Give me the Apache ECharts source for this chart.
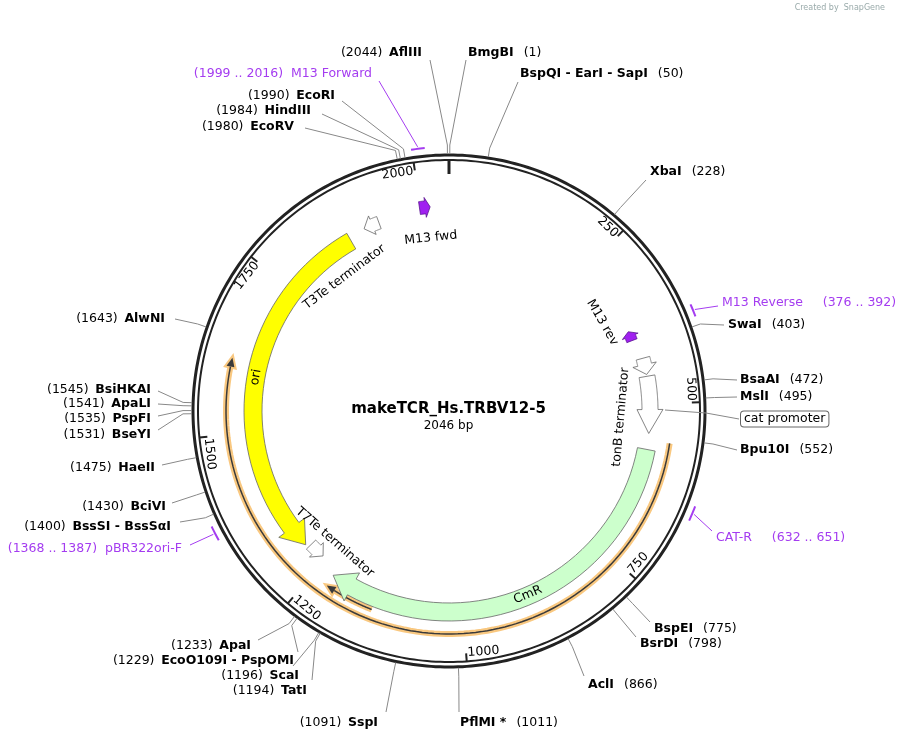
<!DOCTYPE html>
<html lang="en">
<head>
    <meta charset="utf-8">
    <title>makeTCR_Hs.TRBV12-5</title>
    <script src="https://cdn.jsdelivr.net/npm/echarts@6/dist/echarts.min.js"></script>
    <style>html,body{margin:0;padding:0;background:#fff;}</style>
</head>
<body>
<div id="map" style="width:897px;height:742px;"></div>
<script type="application/javascript">
    // plasmid data
    var seqLen = 2046;
    var tickPos = [250, 500, 750, 1000, 1250, 1500, 1750, 2000];

    // restriction sites: name, position
    var siteNames = ['AflIII', 'BmgBI', 'BspQI - EarI - SapI', 'XbaI', 'SwaI', 'BsaAI', 'MslI', 'Bpu10I',
        'BspEI', 'BsrDI', 'AclI', 'PflMI *', 'SspI', 'TatI', 'ScaI', 'EcoO109I - PspOMI', 'ApaI',
        'BssSI - BssSαI', 'BciVI', 'HaeII', 'BseYI', 'PspFI', 'ApaLI', 'BsiHKAI', 'AlwNI',
        'EcoRV', 'HindIII', 'EcoRI'];
    var sitePos = [2044, 1, 50, 228, 403, 472, 495, 552,
        775, 798, 866, 1011, 1091, 1194, 1196, 1229, 1233,
        1400, 1430, 1475, 1531, 1535, 1541, 1545, 1643,
        1980, 1984, 1990];

    // features: name, start, end (head at end)
    var featNames = ['ori', 'CmR', 'tonB1', 'tonB2', 'T7Te', 'T3Te', 'M13 fwd', 'M13 rev'];
    var featStart = [1876, 574, 425, 455, 1284, 1930, 1999, 392];
    var featEnd = [1290, 1223, 452, 548, 1256, 1904, 2016, 376];

    // ORF arcs
    var orfStart = [559, 1144];
    var orfEnd = [1613, 1222];

    // primers
    var primerNames = ['M13 Forward', 'M13 Reverse', 'CAT-R', 'pBR322ori-F'];
    var primerStart = [1999, 376, 632, 1368];
    var primerEnd = [2016, 392, 651, 1387];

    // feature labels on the map
    var labelTexts = ['M13 fwd', 'T3Te terminator', 'ori', 'T7Te terminator', 'CmR', 'tonB terminator', 'M13 rev'];
    var labelPos = [2012, 1830, 1591, 1256, 891, 523, 341];

    // ---- layout (pixels) ----
    // site label: textX, textY, side, lineEndX, lineEndY
    var siteLayout = [
        [422, 53, 'L', 430, 60], [468, 53, 'R', 466, 60], [520, 74, 'R', 518, 82], [650, 172, 'R', 646, 180],
        [728, 325, 'R', 724, 325], [740, 380, 'R', 737, 380], [740, 397, 'R', 737, 397], [740, 450, 'R', 737, 450],
        [654, 629, 'R', 650, 622], [640, 644, 'R', 636, 637], [588, 685, 'R', 584, 676], [460, 723, 'R', 459, 712],
        [378, 723, 'L', 386, 712], [307, 691, 'L', 312, 680], [299, 676, 'L', 293, 666], [294, 661, 'L', 298, 652],
        [251, 646, 'L', 258, 640], [171, 527, 'L', 180, 522], [166, 507, 'L', 172, 503], [155, 468, 'L', 162, 465],
        [151, 435, 'L', 158, 430], [151, 419, 'L', 158, 416], [151, 404, 'L', 158, 404], [151, 390, 'L', 158, 391],
        [165, 319, 'L', 175, 319], [294, 127, 'L', 305, 128], [311, 111, 'L', 322, 114], [335, 96, 'L', 342, 101]
    ];
    var primerLayout = [
        [372, 74, 'L', 379, 81], [722, 303, 'R', 718, 306], [716, 538, 'R', 712, 531], [182, 549, 'L', 190, 545]
    ];
    // r, width, head width, head length(px), fill
    var featStyle = {
        'ori': [196, 18, 32, 22, '#ffff00'],
        'CmR': [201, 18, 32, 22, '#ccffcc'],
        'tonB1': [201, 14, 24, 10, '#ffffff'],
        'tonB2': [201, 16, 26, 24, '#ffffff'],
        'T7Te': [192, 13, 20, 9, '#ffffff'],
        'T3Te': [201, 13, 20, 9, '#ffffff'],
        'M13 fwd': [205, 13, 20, 5, '#a020f0'],
        'M13 rev': [196, 11, 17, 5, '#a020f0']
    };
    var orfR = [223, 213];
    var labelR = [174, 170, 196, 174, 200, 172, 177];
    var labelRot = [-6, -37, -80, 41, -23, -85, 60];

    var purple = '#a43cf0';
    var font = '"DejaVu Sans", Verdana, sans-serif';
    var fs = 12.5;
    var dom = document.getElementById('map');
    var chart = echarts.init(dom);

    function pts(api, r, a, b, n) {
        var out = [];
        for (var i = 0; i <= n; i++) {
            out.push(api.coord([r, a + (b - a) * i / n]));
        }
        return out;
    }
    function toUnits(px, r) {
        return px / (2 * Math.PI * r) * seqLen;
    }
    function arrowShape(api, a, b, r, w, hw, hlPx) {
        var dir = b > a ? 1 : -1;
        var hl = Math.min(toUnits(hlPx, r), Math.abs(b - a) * 0.7);
        var hb = b - dir * hl;
        var outer = pts(api, r + w / 2, a, hb, 40);
        var inner = pts(api, r - w / 2, hb, a, 40);
        return outer.concat([api.coord([r + hw / 2, hb]), api.coord([r, b]), api.coord([r - hw / 2, hb])]).concat(inner);
    }
    function tangentRot(pos) {
        var deg = pos / seqLen * 360;
        return deg > 90 && deg < 270 ? deg - 180 : deg;
    }

    var option = {
        animation: false,
        polar: {center: [449, 411], radius: 257},
        angleAxis: {type: 'value', min: 0, max: seqLen, startAngle: 90, clockwise: true, show: false},
        radiusAxis: {type: 'value', min: 0, max: 257, show: false},
        title: {
            text: 'makeTCR_Hs.TRBV12-5',
            subtext: '2046 bp',
            left: 'center',
            top: 397,
            itemGap: 3,
            textStyle: {fontFamily: font, fontSize: 15, fontWeight: 'bold', color: '#000'},
            subtextStyle: {fontFamily: font, fontSize: 12, color: '#000'}
        },
        graphic: [{
            type: 'text', right: 12, top: 4,
            style: {text: 'Created by  SnapGene', fontFamily: font, fontSize: 8, fill: '#9aa'}
        }],
        series: [
            // backbone ring + ticks
            {
                type: 'custom', coordinateSystem: 'polar', silent: true,
                data: tickPos.map(function (p) { return [250, p]; }),
                renderItem: function (params, api) {
                    var p = tickPos[params.dataIndex];
                    var kids = [];
                    if (params.dataIndex === 0) {
                        kids.push({type: 'polyline', shape: {points: pts(api, 256, 0, seqLen, 360)}, style: {stroke: '#222', lineWidth: 3, fill: null}});
                        kids.push({type: 'polyline', shape: {points: pts(api, 251, 0, seqLen, 360)}, style: {stroke: '#222', lineWidth: 2, fill: null}});
                        var a0 = api.coord([252, 0]), b0 = api.coord([237, 0]);
                        kids.push({type: 'line', shape: {x1: a0[0], y1: a0[1], x2: b0[0], y2: b0[1]}, style: {stroke: '#222', lineWidth: 3}});
                    }
                    var a = api.coord([251, p]), b = api.coord([243, p]);
                    kids.push({type: 'line', shape: {x1: a[0], y1: a[1], x2: b[0], y2: b[1]}, style: {stroke: '#222', lineWidth: 2}});
                    var deg = p / seqLen * 360;
                    var top = !(deg > 90 && deg < 270);
                    var t = api.coord([249, p - 2]);
                    kids.push({
                        type: 'text', x: t[0], y: t[1], rotation: -tangentRot(p) * Math.PI / 180,
                        style: {text: String(p), fontFamily: font, fontSize: 12.5, fill: '#000',
                            align: top ? 'right' : 'left', verticalAlign: top ? 'top' : 'bottom'}
                    });
                    return {type: 'group', children: kids};
                }
            },
            // ORF arcs
            {
                type: 'custom', coordinateSystem: 'polar', silent: true,
                data: orfStart.map(function (s, i) { return [orfR[i], s]; }),
                renderItem: function (params, api) {
                    var i = params.dataIndex, r = orfR[i], a = orfStart[i], b = orfEnd[i];
                    var dir = b > a ? 1 : -1;
                    var hb = b - dir * toUnits(9, r);
                    var line = pts(api, r, a, hb, 120);
                    var head = [api.coord([r + 4, hb]), api.coord([r, b]), api.coord([r - 4, hb])];
                    return {type: 'group', children: [
                        {type: 'polyline', shape: {points: line}, style: {stroke: '#f9c880', lineWidth: 6, fill: null}},
                        {type: 'polygon', shape: {points: head}, style: {fill: '#f9c880', stroke: '#f9c880', lineWidth: 4}},
                        {type: 'polyline', shape: {points: line}, style: {stroke: '#3a3a3a', lineWidth: 1.5, fill: null}},
                        {type: 'polygon', shape: {points: head}, style: {fill: '#3a3a3a'}}
                    ]};
                }
            },
            // features
            {
                type: 'custom', coordinateSystem: 'polar', silent: true,
                data: featNames.map(function (n, i) { return [featStyle[n][0], featStart[i]]; }),
                renderItem: function (params, api) {
                    var i = params.dataIndex, s = featStyle[featNames[i]];
                    var purpleFeat = s[4] === '#a020f0';
                    return {
                        type: 'polygon',
                        shape: {points: arrowShape(api, featStart[i], featEnd[i], s[0], s[1], s[2], s[3])},
                        style: {fill: purpleFeat ? '#a020f0' : s[4], stroke: purpleFeat ? '#5a1590' : '#666', lineWidth: 0.8}
                    };
                }
            },
            // feature labels
            {
                type: 'custom', coordinateSystem: 'polar', silent: true,
                data: labelTexts.map(function (t, i) { return [labelR[i], labelPos[i]]; }),
                renderItem: function (params, api) {
                    var i = params.dataIndex;
                    var c = api.coord([labelR[i], labelPos[i]]);
                    return {
                        type: 'text', x: c[0], y: c[1], rotation: -labelRot[i] * Math.PI / 180,
                        style: {text: labelTexts[i], fontFamily: font, fontSize: fs, fill: '#000', align: 'center', verticalAlign: 'middle'}
                    };
                }
            },
            // restriction sites
            {
                type: 'custom', coordinateSystem: 'polar', silent: true,
                data: siteNames.map(function (n, i) { return [257, sitePos[i]]; }),
                renderItem: function (params, api) {
                    var i = params.dataIndex, L = siteLayout[i];
                    var a = api.coord([257, sitePos[i]]), b = api.coord([266, sitePos[i]]);
                    var txt = L[2] === 'R'
                        ? '{b|' + siteNames[i] + '}   {n|(' + sitePos[i] + ')}'
                        : '{n|(' + sitePos[i] + ')}  {b|' + siteNames[i] + '}';
                    return {type: 'group', children: [
                        {type: 'polyline', shape: {points: [a, b, [L[3], L[4]]]}, style: {stroke: '#888', lineWidth: 1, fill: null}},
                        {
                            type: 'text', x: L[0], y: L[1],
                            style: {
                                text: txt, align: L[2] === 'R' ? 'left' : 'right', verticalAlign: 'middle',
                                rich: {
                                    b: {fontFamily: font, fontSize: fs, fontWeight: 'bold', fill: '#000'},
                                    n: {fontFamily: font, fontSize: fs, fill: '#000'}
                                }
                            }
                        }
                    ]};
                }
            },
            // primers
            {
                type: 'custom', coordinateSystem: 'polar', silent: true,
                data: primerNames.map(function (n, i) { return [264, primerStart[i]]; }),
                renderItem: function (params, api) {
                    var i = params.dataIndex, L = primerLayout[i];
                    var mark = pts(api, 264, primerStart[i], primerEnd[i], 6);
                    var mid = api.coord([266, (primerStart[i] + primerEnd[i]) / 2]);
                    var rng = '(' + primerStart[i] + ' .. ' + primerEnd[i] + ')';
                    var txt = L[2] === 'R' ? primerNames[i] + '     ' + rng : rng + '  ' + primerNames[i];
                    return {type: 'group', children: [
                        {type: 'polyline', shape: {points: mark}, style: {stroke: purple, lineWidth: 2, fill: null}},
                        {type: 'polyline', shape: {points: [mid, [L[3], L[4]]]}, style: {stroke: purple, lineWidth: 1, fill: null}},
                        {type: 'text', x: L[0], y: L[1], style: {text: txt, fontFamily: font, fontSize: fs, fill: purple,
                            align: L[2] === 'R' ? 'left' : 'right', verticalAlign: 'middle'}}
                    ]};
                }
            },
            // cat promoter callout
            {
                type: 'custom', coordinateSystem: 'polar', silent: true,
                data: [[216, 510]],
                renderItem: function (params, api) {
                    var a = api.coord([216, 510]);
                    return {type: 'group', children: [
                        {type: 'polyline', shape: {points: [a, [706, 413], [739, 419]]}, style: {stroke: '#888', lineWidth: 1, fill: null}},
                        {type: 'text', x: 741, y: 419, style: {text: 'cat promoter', fontFamily: font, fontSize: fs, fill: '#000',
                            align: 'left', verticalAlign: 'middle', borderColor: '#666', borderWidth: 1, borderRadius: 3,
                            padding: [1, 3], backgroundColor: '#fff'}}
                    ]};
                }
            }
        ]
    };

    chart.setOption(option);
</script>
</body>
</html>
